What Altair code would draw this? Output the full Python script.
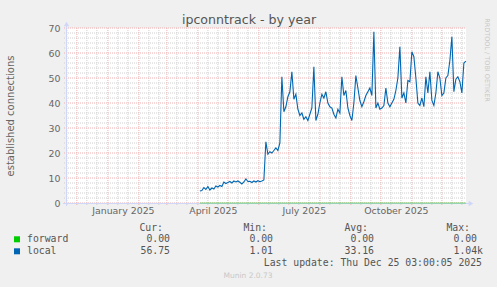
import altair as alt
import pandas as pd

# ---------------- data ----------------
title_text = "ipconntrack - by year"
y_title = "established connections"

# 'local' series sampled every 2 days starting 2025-04-03
local_start = "2025-04-03"
local_values = [
    4.8, 5.0, 6.2, 5.4, 6.6, 5.2, 6.0, 5.6, 6.8, 6.4, 7.0, 6.6, 8.4, 7.8, 8.2, 8.6,
    8.0, 8.8, 8.4, 8.8, 8.3, 7.6, 8.4, 9.6, 8.6, 8.7, 8.2, 8.8, 8.4, 8.9, 8.5, 8.8,
    9.2,
    24.5, 19.5, 20.5, 20.0, 21.0, 22.0, 21.0, 24.0,
    50.5, 36.5, 38.5, 42.5, 44.5, 52.5, 41.5, 43.5, 37.5, 35.0, 36.0, 33.5, 34.5, 33.0,
    35.5, 38.0, 54.5, 33.0, 35.5, 40.0, 43.5, 42.0, 44.5, 40.0, 38.5, 38.0, 35.5, 34.0,
    37.5, 36.0, 50.5, 43.0, 45.0, 38.0, 35.0, 33.0, 40.0, 51.0, 46.0, 41.0, 38.5, 40.5,
    43.0, 44.5, 46.0, 43.0, 68.5, 38.0, 40.0, 37.5, 38.0, 39.0, 46.0, 40.0, 38.5, 40.0,
    41.5, 45.0, 50.0, 62.5, 42.0, 44.0, 40.0, 49.0, 48.5, 60.5, 58.5, 50.0, 40.0, 39.0,
    42.0, 38.5, 50.5, 44.0, 52.5, 41.0, 39.0, 44.0, 52.5, 50.0, 43.0, 44.0, 50.0, 51.0,
    57.0, 66.5, 44.5, 49.5, 50.5, 48.5, 44.0, 56.0, 56.75,
]
local_dates = (
    pd.date_range(local_start, periods=len(local_values), freq="2D")
    .strftime("%Y-%m-%d")
    .tolist()
)

forward_dates = ["2025-04-03", "2025-12-25"]
forward_values = [0.0, 0.0]

major_x = [
    "2024-12-01", "2025-01-01", "2025-02-01", "2025-03-01", "2025-04-01",
    "2025-05-01", "2025-06-01", "2025-07-01", "2025-08-01", "2025-09-01",
    "2025-10-01", "2025-11-01", "2025-12-01",
]
minor_x = [
    "2024-11-21", "2024-12-11", "2024-12-21", "2025-01-11", "2025-01-21",
    "2025-02-11", "2025-02-21", "2025-03-11", "2025-03-21", "2025-04-11",
    "2025-04-21", "2025-05-11", "2025-05-21", "2025-06-11", "2025-06-21",
    "2025-07-11", "2025-07-21", "2025-08-11", "2025-08-21", "2025-09-11",
    "2025-09-21", "2025-10-11", "2025-10-21", "2025-11-11", "2025-11-21",
    "2025-12-11", "2025-12-21",
]
major_y = [0, 10, 20, 30, 40, 50, 60, 70]
minor_y = [v for v in range(2, 70, 2) if v % 10 != 0]

x_label_months = [(2025, 1), (2025, 4), (2025, 7), (2025, 10)]

legend_names = ["forward", "local"]
legend_colors = ["#00CC00", "#0066B3"]
stat_headers = ["Cur:", "Min:", "Avg:", "Max:"]
forward_stats = ["0.00", "0.00", "0.00", "0.00"]
local_stats = ["56.75", "1.01", "33.16", "1.04k"]
last_update = "Last update: Thu Dec 25 03:00:05 2025"
version_text = "Munin 2.0.73"
side_text = "RRDTOOL / TOBI OETIKER"

# ---------------- styling ----------------
W, H = 400, 175
FONT = "DejaVu Sans"
MONO = "DejaVu Sans Mono"
AXIS_C = "#CFD6F8"
FONT_C = "#666666"

xs = alt.Scale(
    type="utc",
    domain=[
        alt.DateTime(year=2024, month=11, date=20, hours=3, utc=True),
        alt.DateTime(year=2025, month=12, date=25, hours=3, utc=True),
    ],
)
ys = alt.Scale(domain=[0, 70], nice=False, zero=True)

x_axis = alt.Axis(
    values=[alt.DateTime(year=y, month=m, date=16, utc=True) for y, m in x_label_months],
    format="%B %Y",
    domain=False, ticks=False, grid=False,
    labelFont=FONT, labelFontSize=9.4, labelColor=FONT_C, labelPadding=3,
    labelOverlap=False, title=None,
)
y_axis = alt.Axis(
    values=major_y,
    domain=False, ticks=False, grid=False,
    labelFont=FONT, labelFontSize=9.4, labelColor=FONT_C, labelPadding=6,
    title=y_title, titleFont=FONT, titleFontSize=10, titleFontWeight="normal",
    titleColor=FONT_C, titleX=-51, titleY=H / 2,
)


def X():
    return alt.X("date:T", scale=xs, axis=x_axis, title=None)


def Y():
    return alt.Y("value:Q", scale=ys, axis=y_axis, title=y_title)


layers = []

# grids
layers.append(
    alt.Chart(pd.DataFrame({"value": minor_y}))
    .mark_rule(color="#D0D0D0", strokeDash=[1, 1], strokeWidth=1)
    .encode(y=Y(), x=alt.value(-2), x2=alt.value(W))
)
layers.append(
    alt.Chart(pd.DataFrame({"date": minor_x}))
    .mark_rule(color="#D0D0D0", strokeDash=[1, 1], strokeWidth=1)
    .encode(x=X(), y=alt.value(0), y2=alt.value(H + 2))
)
layers.append(
    alt.Chart(pd.DataFrame({"value": major_y}))
    .mark_rule(color="#EFB0B0", strokeDash=[1, 1], strokeWidth=1)
    .encode(y=Y(), x=alt.value(-2), x2=alt.value(W))
)
layers.append(
    alt.Chart(pd.DataFrame({"date": major_x}))
    .mark_rule(color="#EFB0B0", strokeDash=[1, 1], strokeWidth=1)
    .encode(x=X(), y=alt.value(0), y2=alt.value(H + 3))
)

one = pd.DataFrame({"k": [0]})
# axis lines and arrows
layers.append(
    alt.Chart(one).mark_rule(color=AXIS_C, strokeWidth=1)
    .encode(x=alt.value(0.5), y=alt.value(-3), y2=alt.value(H + 3))
)
layers.append(
    alt.Chart(one).mark_rule(color=AXIS_C, strokeWidth=1)
    .encode(x=alt.value(-3), x2=alt.value(W + 3), y=alt.value(H + 0.5))
)
layers.append(
    alt.Chart(one).mark_point(shape="triangle-up", filled=True, color=AXIS_C, size=28, opacity=1)
    .encode(x=alt.value(0.5), y=alt.value(-4))
)
layers.append(
    alt.Chart(one).mark_point(shape="triangle-right", filled=True, color=AXIS_C, size=28, opacity=1)
    .encode(x=alt.value(W + 5), y=alt.value(H + 0.5))
)

# data lines
layers.append(
    alt.Chart(pd.DataFrame({"date": forward_dates, "value": forward_values}))
    .mark_line(color=legend_colors[0], strokeWidth=1, opacity=0.55)
    .encode(x=X(), y=Y())
)
layers.append(
    alt.Chart(pd.DataFrame({"date": local_dates, "value": local_values}))
    .mark_line(color=legend_colors[1], strokeWidth=1.1)
    .encode(x=X(), y=Y())
)


def text(t, px, py, align="left", font=MONO, size=9.8, color="#555555", angle=0, baseline="middle"):
    return (
        alt.Chart(pd.DataFrame({"t": [t]}))
        .mark_text(align=align, baseline=baseline, font=font, fontSize=size, color=color, angle=angle)
        .encode(text="t:N", x=alt.value(px), y=alt.value(py))
    )


OX, OY = 66, 28  # plot origin in page pixels

layers.append(text(title_text, 249 - OX, 24 - OY, align="center", font=FONT, size=12.6,
                   color="#555555", baseline="alphabetic"))
layers.append(text(side_text, 487 - OX, 60 - OY, align="center", font=FONT, size=6.5, color="#C8C8C8", angle=90))

header_right = [163, 267, 368, 470]
value_right = [170, 273, 374, 477]
for h, xr in zip(stat_headers, header_right):
    layers.append(text(h, xr - OX, 227.7 - OY, align="right"))

rows_y = [239.3, 251.3]
for name, col, ry, stats in zip(legend_names, legend_colors, rows_y, [forward_stats, local_stats]):
    layers.append(
        alt.Chart(one).mark_square(color=col, size=36, opacity=1)
        .encode(x=alt.value(17 - OX), y=alt.value(ry - OY))
    )
    layers.append(text(name, 27 - OX, ry - OY))
    for s, xr in zip(stats, value_right):
        shift = 6 if s[-1].isalpha() else 0
        layers.append(text(s, xr + shift - OX, ry - OY, align="right"))

layers.append(text(last_update, 482 - OX, 263 - OY, align="right"))
layers.append(text(version_text, 248 - OX, 276 - OY, align="center", font=FONT, size=7.5, color="#C8C8C8"))

chart = (
    alt.layer(*layers)
    .properties(
        width=W,
        height=H,
        padding={"left": OX, "top": OY, "right": 497 - OX - W, "bottom": 287 - OY - H},
        autosize=alt.AutoSizeParams(type="none"),
        background="#F0F0F0",
    )
    .configure_view(fill="#FFFFFF", stroke=None)
)

chart.save("out.html", embed_options={"renderer": "svg", "actions": False})
